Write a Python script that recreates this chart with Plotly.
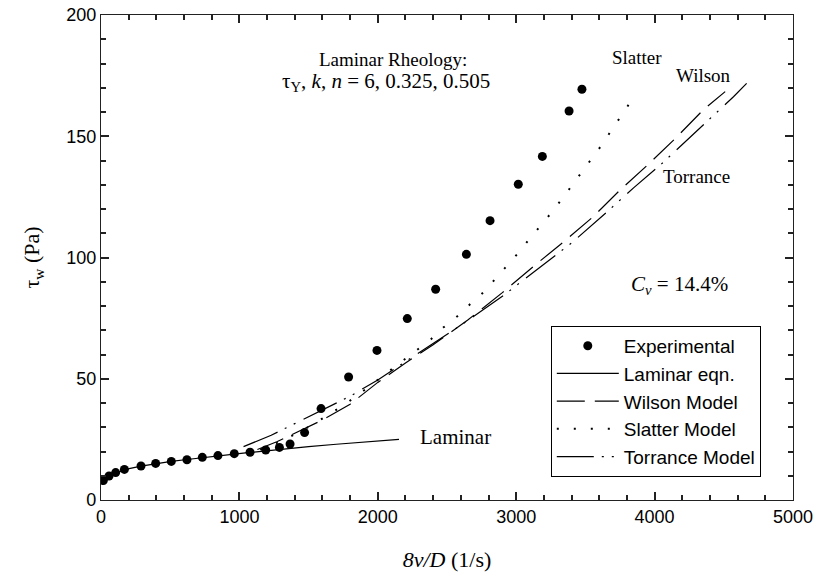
import plotly.graph_objects as go

# ---- data ----
exp_x = [17, 58, 106, 169, 289, 395, 508, 621, 732, 845, 963, 1077, 1190, 1289, 1366,
         1471, 1590, 1789, 1994, 2213, 2418, 2640, 2811, 3015, 3189, 3382, 3475]
exp_y = [8.0, 9.9, 11.3, 12.6, 14.0, 15.1, 15.9, 16.6, 17.6, 18.3, 19.1, 19.7, 20.6, 21.7, 23.1,
         27.8, 37.7, 50.7, 61.7, 74.8, 86.9, 101.3, 115.2, 130.2, 141.7, 160.4, 169.4]

lam_x = [0, 17, 58, 106, 169, 289, 395, 508, 621, 732, 845, 963, 1077, 1190, 1289, 1500, 1700, 1900, 2153]
lam_y = [7.0, 8.0, 9.8, 11.1, 12.5, 14.0, 15.0, 15.9, 16.7, 17.5, 18.2, 18.9, 19.6, 20.3, 20.9, 22.0, 23.0, 24.0, 25.0]

wil_x = [1130, 1270, 1400, 1600, 1800, 2000, 2200, 2400, 2650, 2900, 3150, 3350, 3550, 3750, 3950, 4150, 4350, 4510]
wil_y = [20.8, 24.0, 27.5, 33.0, 39.5, 48.5, 56.5, 64.0, 74.2, 85.5, 97.5, 106.8, 116.5, 127.8, 138.2, 149.1, 160.8, 168.4]

sla_x = [1150, 1250, 1350, 1450, 1550, 1650, 1750, 1850, 1950, 2050, 2150, 2281, 2384, 2473, 2577, 2666,
         2763, 2852, 2936, 3018, 3095, 3177, 3256, 3329, 3401, 3473, 3541, 3613, 3678, 3743, 3810, 3871]
sla_y = [20.8, 23.0, 25.7, 28.5, 31.8, 35.3, 39.0, 43.0, 47.3, 51.8, 56.0, 61.8, 66.3, 71.1, 75.9, 80.7,
         85.6, 91.4, 96.6, 102.1, 107.6, 113.1, 118.6, 124.0, 129.6, 135.0, 140.5, 146.0, 151.6, 157.1, 162.5, 168.0]

tor_x = [1030, 1230, 1400, 1600, 1800, 2000, 2200, 2400, 2650, 2900, 3150, 3400, 3650, 3850, 4050, 4210, 4410, 4570, 4665]
tor_y = [22.0, 26.7, 31.5, 37.0, 42.8, 49.5, 57.0, 64.5, 74.0, 84.0, 95.0, 106.0, 118.5, 128.8, 138.6, 147.1, 157.4, 166.3, 171.8]

x_range = [0, 5000]
y_range = [0, 200]
x_major, x_minor = 1000, 200
y_major, y_minor = 50, 10

SERIF = "Liberation Serif, Times New Roman, serif"
SANS = "Liberation Sans, Arial, sans-serif"
AXC = "#222222"

fig = go.Figure()
fig.add_trace(go.Scatter(x=exp_x, y=exp_y, mode="markers", name="Experimental",
                         marker=dict(color="black", size=9)))
fig.add_trace(go.Scatter(x=lam_x, y=lam_y, mode="lines", name="Laminar eqn.",
                         line=dict(color="black", width=1.2)))
fig.add_trace(go.Scatter(x=wil_x, y=wil_y, mode="lines", name="Wilson Model",
                         line=dict(color="black", width=1.2, dash="28px,10px")))
fig.add_trace(go.Scatter(x=sla_x, y=sla_y, mode="lines", name="Slatter Model",
                         line=dict(color="black", width=2, dash="2px,15px")))
fig.add_trace(go.Scatter(x=tor_x, y=tor_y, mode="lines", name="Torrance Model",
                         line=dict(color="black", width=1.2, dash="37px,8px,2px,8px,2px,9px")))

ax_common = dict(showgrid=False, zeroline=False, showline=True, linecolor=AXC, linewidth=1.3,
                 mirror="allticks", ticks="inside", ticklen=8, tickcolor=AXC, tickwidth=1.6,
                 tickmode="linear", tick0=0, automargin=False,
                 tickfont=dict(family=SANS, size=18, color="black"))

fig.update_xaxes(range=x_range, dtick=x_major,
                 minor=dict(tickmode="linear", tick0=0, dtick=x_minor, ticks="inside", ticklen=5,
                            tickcolor=AXC, tickwidth=1.6, showgrid=False),
                 title=dict(text="<i>8v/D</i> (1/s)", font=dict(family=SERIF, size=22, color="black"),
                            standoff=25),
                 **ax_common)
fig.update_yaxes(range=y_range, dtick=y_major,
                 minor=dict(tickmode="linear", tick0=0, dtick=y_minor, ticks="inside", ticklen=5,
                            tickcolor=AXC, tickwidth=1.6, showgrid=False),
                 title=dict(text="τ<sub>w</sub> (Pa)", font=dict(family=SERIF, size=22, color="black"),
                            standoff=20),
                 **ax_common)

labels = [
    (2110, 181.8, "Laminar Rheology:", 19),
    (2060, 172.2, "τ<sub>Y</sub>, <i>k</i>, <i>n</i> = 6, 0.325, 0.505", 21),
    (3870, 182.4, "Slatter", 19),
    (4355, 175.0, "Wilson", 19),
    (4305, 133.5, "Torrance", 19),
    (4180, 88.6, "<i>C<sub>v</sub></i> = 14.4%", 21),
    (2560, 26.0, "Laminar", 21),
]
for lx, ly, txt, sz in labels:
    fig.add_annotation(x=lx, y=ly, xref="x", yref="y", text=txt, showarrow=False,
                       font=dict(family=SERIF, size=sz, color="black"))

fig.update_layout(
    width=818, height=576,
    margin=dict(l=101, r=25, t=15, b=76),
    paper_bgcolor="white", plot_bgcolor="white",
    showlegend=True,
    legend=dict(x=0.650, y=0.359, xanchor="left", yanchor="top",
                bordercolor="black", borderwidth=1, bgcolor="white",
                font=dict(family=SANS, size=19, color="black"),
                itemwidth=62, tracegroupgap=0),
)

fig.write_html("out.html")
